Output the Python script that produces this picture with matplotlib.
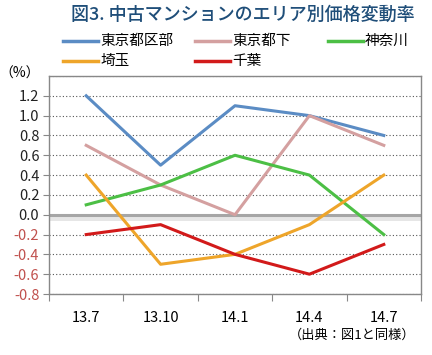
import numpy as np
import matplotlib
matplotlib.use("Agg")
import matplotlib.pyplot as plt
from matplotlib.lines import Line2D

plt.rcParams['font.family'] = ['Noto Sans CJK JP', 'DejaVu Sans']

# ---------- data ----------
periods = ["13.7", "13.10", "14.1", "14.4", "14.7"]
kubu = [1.2, 0.5, 1.1, 1.0, 0.8]       # 東京都区部
toka = [0.7, 0.3, 0.0, 1.0, 0.7]       # 東京都下
kanagawa = [0.1, 0.3, 0.6, 0.4, -0.2]  # 神奈川
saitama = [0.4, -0.5, -0.4, -0.1, 0.4] # 埼玉
chiba = [-0.2, -0.1, -0.4, -0.6, -0.3] # 千葉
yticks = [-0.8, -0.6, -0.4, -0.2, 0.0, 0.2, 0.4, 0.6, 0.8, 1.0, 1.2]

W, H = 432, 355
fig = plt.figure(figsize=(W/100, H/100), dpi=100)
ax = fig.add_axes([49/W, 1-294/H, (421-49)/W, (294-76)/H])

x = np.arange(len(periods))
ax.set_xlim(-0.5, len(periods) - 0.5)
ax.set_ylim(-0.8, 1.4)

# grid
for yv in yticks + [1.4]:
    if yv != 0.0:
        ax.axhline(yv, color="#555555", lw=0.8, ls=(0, (1, 2)), zorder=1)
# zero line with a soft shadow
ax.axhline(-0.02, color="#e6e6e6", lw=5, zorder=1)
ax.axhline(0.0, color="#a6a6a6", lw=2.2, zorder=2)

series = [
    (kubu, "東京都区部", "#5b8cc4"),
    (toka, "東京都下", "#d4a0a0"),
    (kanagawa, "神奈川", "#4cbf45"),
    (saitama, "埼玉", "#eea52a"),
    (chiba, "千葉", "#d21a1a"),
]
for vals, name, col in series:
    ax.plot(x, vals, color=col, lw=2.2, label=name, zorder=3)

ax.set_xticks(np.arange(-0.5, len(periods)), minor=False)
ax.set_xticklabels([])
ax.set_xticks(x, minor=True)
ax.set_xticklabels(periods, minor=True)
ax.tick_params(axis="x", which="major", length=5, color="#888888", direction="out")
ax.tick_params(axis="x", which="minor", length=0, pad=12, labelsize=10.5)

ax.set_yticks(yticks)
ax.set_yticklabels([f"{v:.1f}" for v in yticks])
ax.tick_params(axis="y", length=4, color="#888888", labelsize=10.5, pad=3)
for lbl, v in zip(ax.get_yticklabels(), yticks):
    lbl.set_color("#c0504d" if v < 0 else "#222222")

for s in ax.spines.values():
    s.set_color("#888888")
    s.set_linewidth(1.0)

fig.text(20/W, 1-74/H, "（%）", fontsize=10, ha="center", va="center")

fig.text(243/W, 1-15/H, "図3. 中古マンションのエリア別価格変動率",
         fontsize=13, fontweight="medium", color="#1f4e79", ha="center", va="center")

# legend, laid out by hand in three columns
leg_x = [63, 195, 328]
leg_y = [41, 61]
for i, (vals, name, col) in enumerate(series):
    r, c = divmod(i, 3)
    x0 = leg_x[c] / W
    y0 = 1 - leg_y[r] / H
    fig.add_artist(Line2D([x0, x0 + 35/W], [y0, y0], color=col, lw=2.5,
                          transform=fig.transFigure))
    fig.text(x0 + 37/W, y0, name, fontsize=10.5, ha="left", va="center")

fig.text(415/W, 1-335/H, "（出典：図1と同様）", fontsize=9.5, ha="right", va="center")

fig.savefig("out.png", dpi=100)
